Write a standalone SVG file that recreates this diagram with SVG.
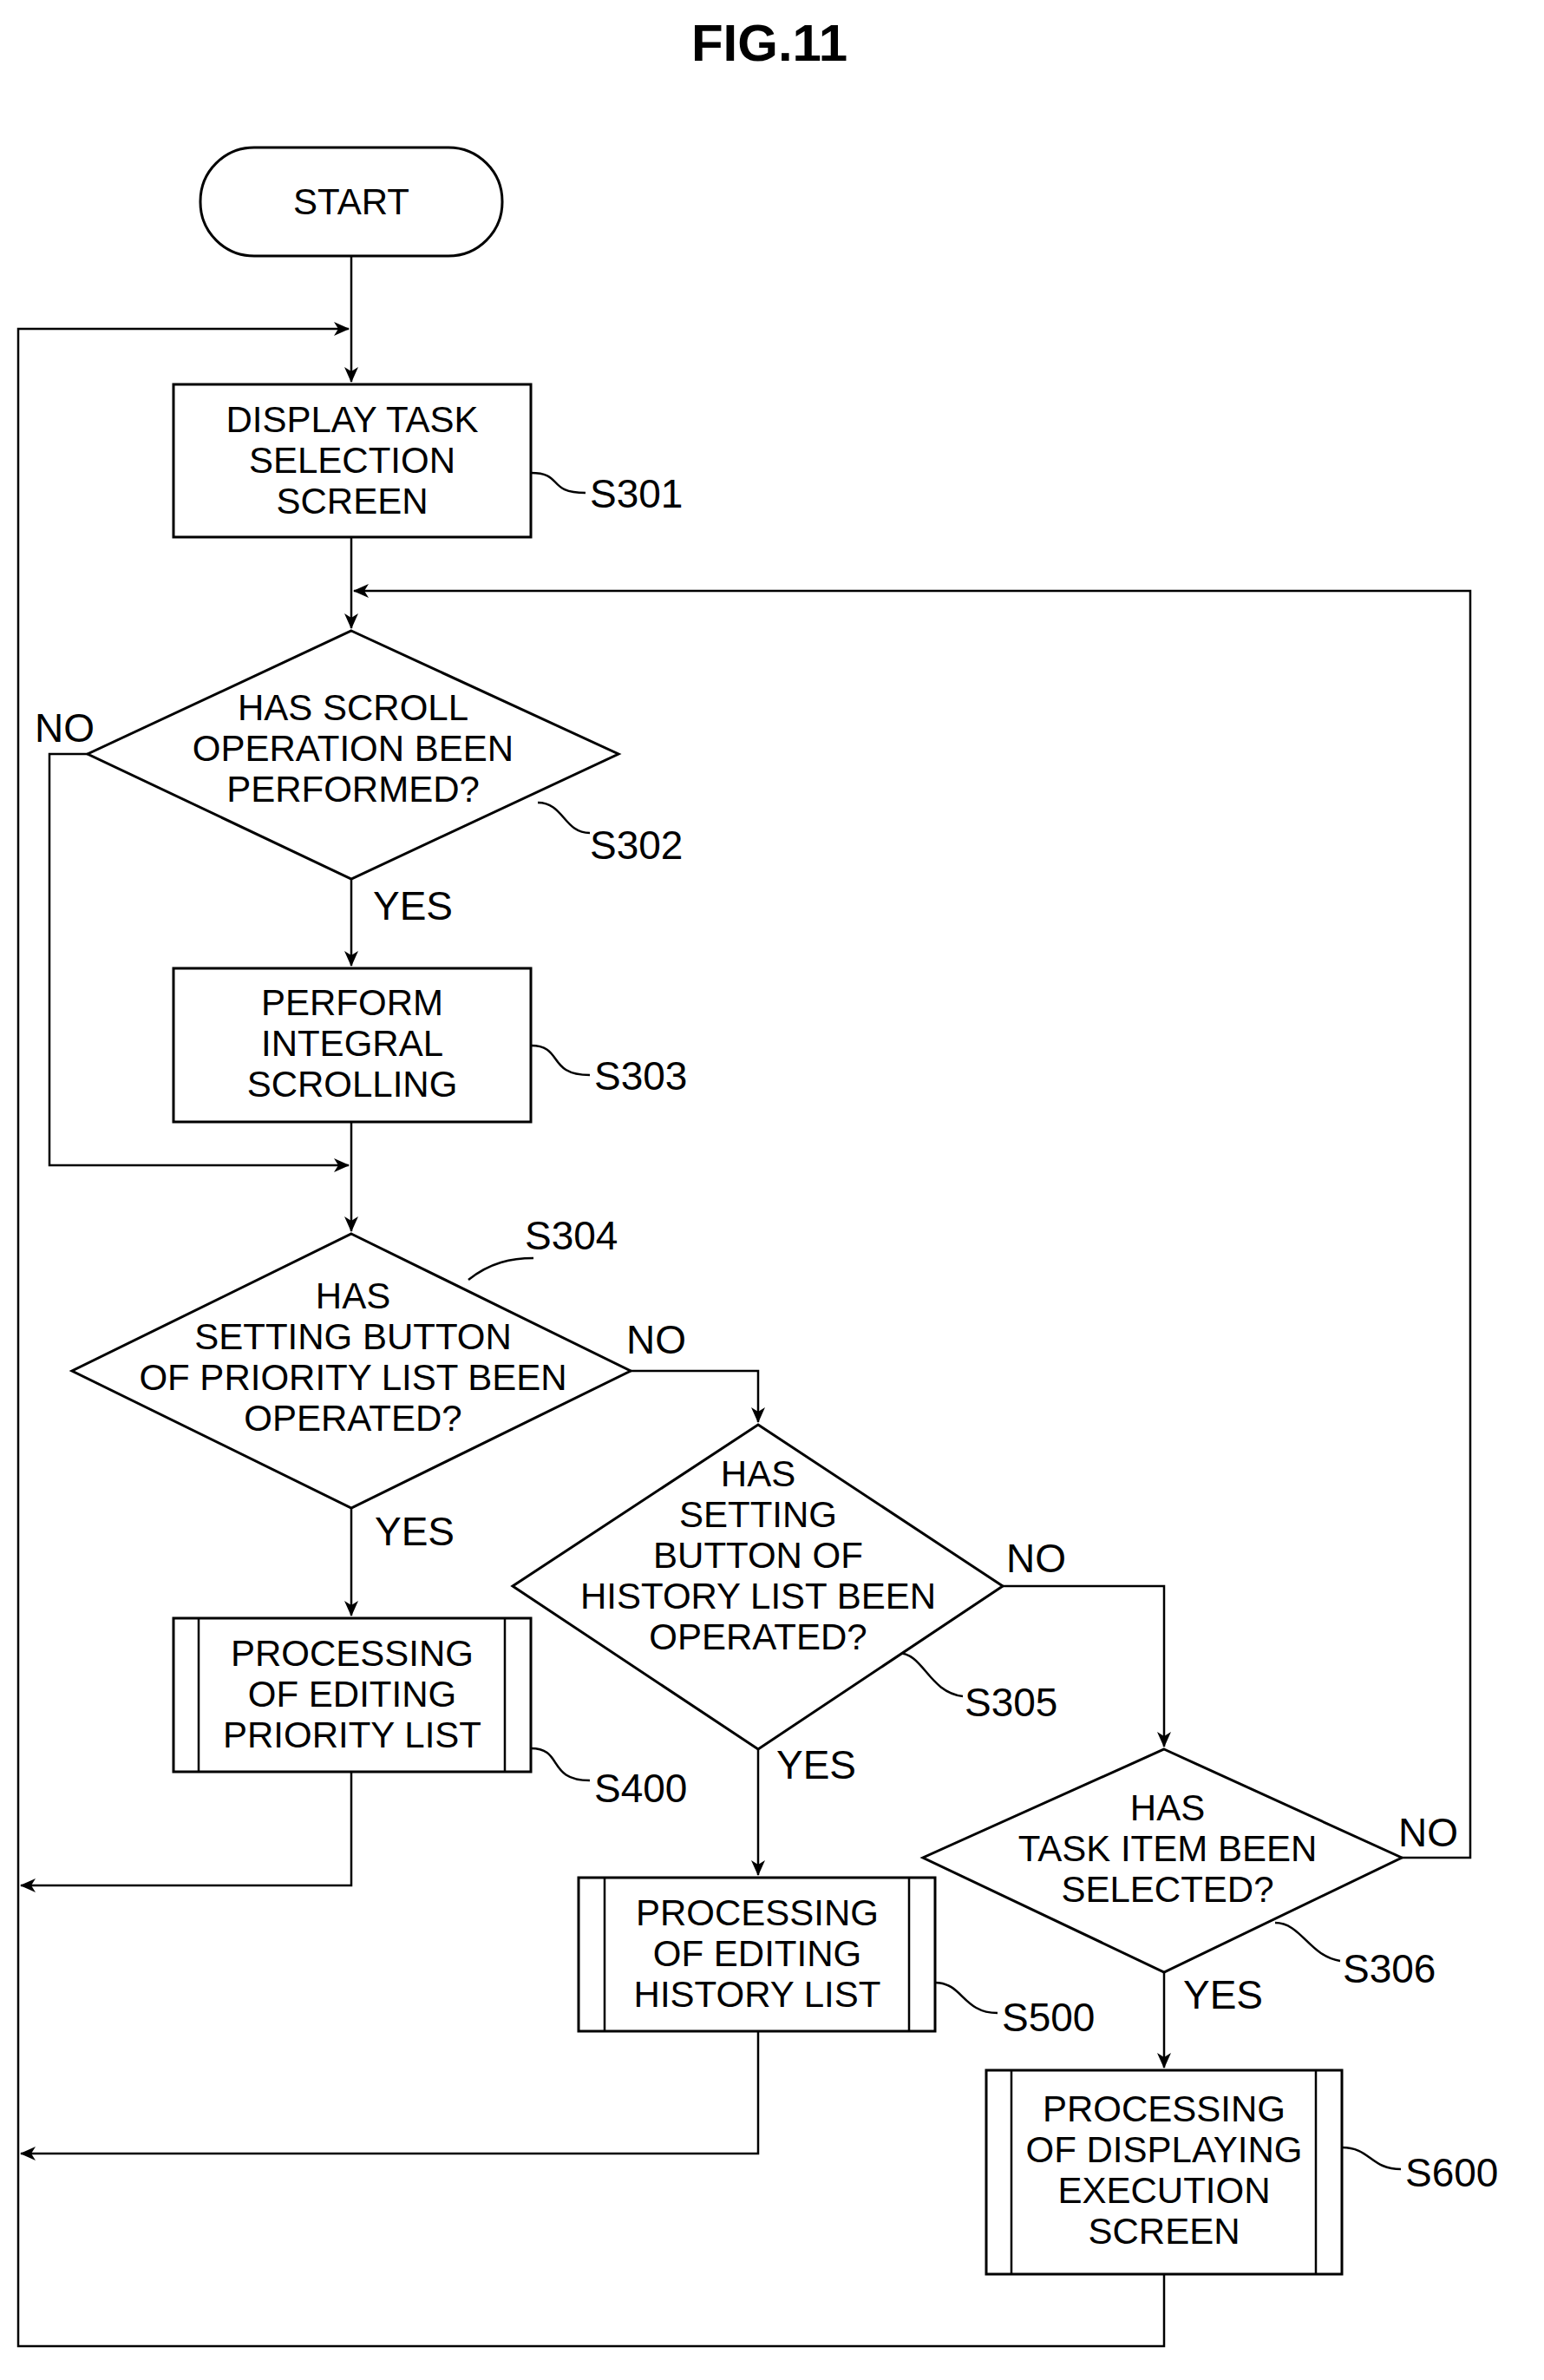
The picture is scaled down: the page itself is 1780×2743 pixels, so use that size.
<svg xmlns="http://www.w3.org/2000/svg" width="1780" height="2743" viewBox="0 0 1780 2743">
<style>
.s{fill:#fff;stroke:#000;stroke-width:3}
.l{fill:none;stroke:#000;stroke-width:2.5}
.t{font-family:"Liberation Sans",Arial,sans-serif;font-size:42px;text-anchor:middle;fill:#000}
.lb{font-family:"Liberation Sans",Arial,sans-serif;font-size:46px;fill:#000}
</style>
<defs><marker id="a" markerWidth="18" markerHeight="16" refX="17" refY="8" orient="auto" markerUnits="userSpaceOnUse"><path d="M0,0 L18,8 L0,16 L5,8 Z" fill="#000"/></marker></defs>
<rect width="1780" height="2743" fill="#fff"/>
<text x="887" y="70" class="lb" style="font-size:60px;text-anchor:middle;font-weight:bold">FIG.11</text>
<g id="connectors">
<path class="l" d="M405,295 V440" marker-end="url(#a)"/>
<path class="l" d="M405,619 V724" marker-end="url(#a)"/>
<path class="l" d="M405,1013 V1113" marker-end="url(#a)"/>
<path class="l" d="M405,1293 V1419" marker-end="url(#a)"/>
<path class="l" d="M101,869 H57 V1343 H402" marker-end="url(#a)"/>
<path class="l" d="M727,1580 H874 V1639" marker-end="url(#a)"/>
<path class="l" d="M1156,1828 H1342 V2013" marker-end="url(#a)"/>
<path class="l" d="M1616,2141 H1695 V681 H408" marker-end="url(#a)"/>
<path class="l" d="M405,1738 V1862" marker-end="url(#a)"/>
<path class="l" d="M874,2016 V2161" marker-end="url(#a)"/>
<path class="l" d="M1342,2273 V2383" marker-end="url(#a)"/>
<path class="l" d="M405,2042 V2173 H24" marker-end="url(#a)"/>
<path class="l" d="M874,2341 V2482 H24" marker-end="url(#a)"/>
<path class="l" d="M1342,2621 V2704 H21 V379 H402" marker-end="url(#a)"/>
<path class="l" d="M612,545 C650,545 630,568 675,568"/>
<path class="l" d="M620,925 C650,925 650,960 680,960"/>
<path class="l" d="M612,1205 C650,1205 630,1239 680,1239"/>
<path class="l" d="M540,1475 C565,1455 590,1450 615,1450"/>
<path class="l" d="M1035,1905 C1065,1905 1070,1950 1110,1955"/>
<path class="l" d="M612,2015 C650,2015 630,2052 680,2052"/>
<path class="l" d="M1078,2285 C1110,2285 1110,2320 1150,2320"/>
<path class="l" d="M1470,2216 C1500,2216 1510,2255 1545,2260"/>
<path class="l" d="M1547,2475 C1580,2475 1580,2500 1615,2500"/>
</g>
<g id="start"><rect class="s" x="231" y="170" width="348" height="125" rx="62"/><text class="t" x="405" y="247">START</text></g>
<g id="S301"><rect class="s" x="200" y="443" width="412" height="176"/><text class="t" x="406" y="498">DISPLAY TASK</text><text class="t" x="406" y="545">SELECTION</text><text class="t" x="406" y="592">SCREEN</text><text class="lb" x="680" y="585">S301</text></g>
<g id="S302"><polygon class="s" points="405,727 713,869 405,1013 101,869"/><text class="t" x="407" y="830">HAS SCROLL</text><text class="t" x="407" y="877">OPERATION BEEN</text><text class="t" x="407" y="924">PERFORMED?</text><text class="lb" x="680" y="990">S302</text><text class="lb" x="40" y="855">NO</text><text class="lb" x="430" y="1060">YES</text></g>
<g id="S303"><rect class="s" x="200" y="1116" width="412" height="177"/><text class="t" x="406" y="1170">PERFORM</text><text class="t" x="406" y="1217">INTEGRAL</text><text class="t" x="406" y="1264">SCROLLING</text><text class="lb" x="685" y="1256">S303</text></g>
<g id="S304"><polygon class="s" points="405,1422 727,1580 405,1738 83,1580" /><text class="t" x="407" y="1508">HAS</text><text class="t" x="407" y="1555">SETTING BUTTON</text><text class="t" x="407" y="1602">OF PRIORITY LIST BEEN</text><text class="t" x="407" y="1649">OPERATED?</text><text class="lb" x="605" y="1440">S304</text><text class="lb" x="722" y="1560">NO</text><text class="lb" x="432" y="1781">YES</text></g>
<g id="S305"><polygon class="s" points="874,1642 1156,1828 874,2016 591,1828"/><text class="t" x="874" y="1713">HAS</text><text class="t" x="874" y="1760">SETTING</text><text class="t" x="874" y="1807">BUTTON OF</text><text class="t" x="874" y="1854">HISTORY LIST BEEN</text><text class="t" x="874" y="1901">OPERATED?</text><text class="lb" x="1112" y="1978">S305</text><text class="lb" x="1160" y="1812">NO</text><text class="lb" x="895" y="2050">YES</text></g>
<g id="S306"><polygon class="s" points="1342,2016 1616,2141 1342,2273 1064,2141"/><text class="t" x="1346" y="2098">HAS</text><text class="t" x="1346" y="2145">TASK ITEM BEEN</text><text class="t" x="1346" y="2192">SELECTED?</text><text class="lb" x="1548" y="2285">S306</text><text class="lb" x="1612" y="2128">NO</text><text class="lb" x="1364" y="2315">YES</text></g>
<g id="S400"><rect class="s" x="200" y="1865" width="412" height="177"/><path class="l" d="M229,1865 V2042 M582,1865 V2042"/><text class="t" x="406" y="1920">PROCESSING</text><text class="t" x="406" y="1967">OF EDITING</text><text class="t" x="406" y="2014">PRIORITY LIST</text><text class="lb" x="685" y="2077">S400</text></g>
<g id="S500"><rect class="s" x="667" y="2164" width="411" height="177"/><path class="l" d="M697,2164 V2341 M1048,2164 V2341"/><text class="t" x="873" y="2219">PROCESSING</text><text class="t" x="873" y="2266">OF EDITING</text><text class="t" x="873" y="2313">HISTORY LIST</text><text class="lb" x="1155" y="2341">S500</text></g>
<g id="S600"><rect class="s" x="1137" y="2386" width="410" height="235"/><path class="l" d="M1166,2386 V2621 M1517,2386 V2621"/><text class="t" x="1342" y="2445">PROCESSING</text><text class="t" x="1342" y="2492">OF DISPLAYING</text><text class="t" x="1342" y="2539">EXECUTION</text><text class="t" x="1342" y="2586">SCREEN</text><text class="lb" x="1620" y="2520">S600</text></g>
</svg>
